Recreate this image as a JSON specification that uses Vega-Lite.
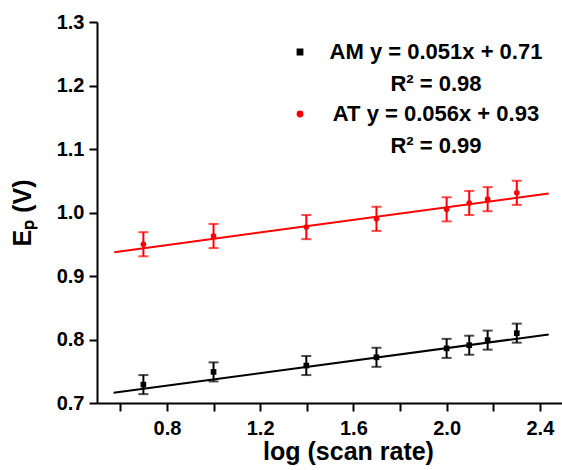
{
  "$schema": "https://vega.github.io/schema/vega-lite/v6.json",
  "width": 465,
  "height": 381,
  "autosize": "none",
  "padding": {"left": 97, "top": 22, "right": 0, "bottom": 67},
  "background": "white",
  "datasets": {
    "pts": [
      {"series": "AM", "logv": 0.699, "Ep": 0.729, "lo": 0.714, "hi": 0.744},
      {"series": "AM", "logv": 1.0, "Ep": 0.749, "lo": 0.734, "hi": 0.764},
      {"series": "AM", "logv": 1.398, "Ep": 0.759, "lo": 0.744, "hi": 0.774},
      {"series": "AM", "logv": 1.699, "Ep": 0.772, "lo": 0.757, "hi": 0.787},
      {"series": "AM", "logv": 2.0, "Ep": 0.786, "lo": 0.771, "hi": 0.801},
      {"series": "AM", "logv": 2.097, "Ep": 0.791, "lo": 0.776, "hi": 0.806},
      {"series": "AM", "logv": 2.176, "Ep": 0.799, "lo": 0.784, "hi": 0.814},
      {"series": "AM", "logv": 2.301, "Ep": 0.81, "lo": 0.795, "hi": 0.825},
      {"series": "AT", "logv": 0.699, "Ep": 0.95, "lo": 0.931, "hi": 0.969},
      {"series": "AT", "logv": 1.0, "Ep": 0.963, "lo": 0.944, "hi": 0.982},
      {"series": "AT", "logv": 1.398, "Ep": 0.977, "lo": 0.958, "hi": 0.996},
      {"series": "AT", "logv": 1.699, "Ep": 0.99, "lo": 0.971, "hi": 1.009},
      {"series": "AT", "logv": 2.0, "Ep": 1.005, "lo": 0.986, "hi": 1.024},
      {"series": "AT", "logv": 2.097, "Ep": 1.015, "lo": 0.996, "hi": 1.034},
      {"series": "AT", "logv": 2.176, "Ep": 1.021, "lo": 1.002, "hi": 1.04},
      {"series": "AT", "logv": 2.301, "Ep": 1.031, "lo": 1.012, "hi": 1.05}
    ],
    "fit": [
      {"series": "AM", "logv": 0.571, "Ep": 0.716},
      {"series": "AM", "logv": 2.438, "Ep": 0.808},
      {"series": "AT", "logv": 0.574, "Ep": 0.9375},
      {"series": "AT", "logv": 2.438, "Ep": 1.03}
    ]
  },
  "layer": [
    {
      "data": {"name": "fit"},
      "mark": {"type": "line", "strokeWidth": 2},
      "encoding": {
        "x": {"field": "logv", "type": "quantitative",
          "scale": {"domain": [0.5, 2.495], "nice": false, "zero": false},
          "axis": {"orient": "bottom", "values": [0.6, 0.8, 1.0, 1.2, 1.4, 1.6, 1.8, 2.0, 2.2, 2.4],
            "format": ".1f", "labelExpr": "round(datum.value*10) % 4 == 0 ? datum.label : ''",
            "title": "log (scan rate)", "titleX": 251, "labelPadding": 7, "titlePadding": 1}},
        "y": {"field": "Ep", "type": "quantitative",
          "scale": {"domain": [0.7, 1.3], "nice": false, "zero": false},
          "axis": {"values": [0.7, 0.75, 0.8, 0.85, 0.9, 0.95, 1.0, 1.05, 1.1, 1.15, 1.2, 1.25, 1.3],
            "format": ".1f", "labelExpr": "round(datum.value*100) % 10 == 0 ? datum.label : ''",
            "title": "Eₚ (V)", "labelPadding": 5, "titlePadding": 21}},
        "color": {"field": "series", "type": "nominal",
          "scale": {"domain": ["AM", "AT"], "range": ["#000000", "#ff0000"]}},
        "detail": {"field": "series"}
      }
    },
    {
      "mark": {"type": "rule", "strokeWidth": 1.5, "color": "black"},
      "encoding": {"y": {"datum": 1.3, "type": "quantitative"}}
    },
    {
      "data": {"name": "pts"},
      "mark": {"type": "rule", "strokeWidth": 2},
      "encoding": {
        "x": {"field": "logv", "type": "quantitative"},
        "y": {"field": "lo", "type": "quantitative"},
        "y2": {"field": "hi"},
        "color": {"field": "series", "type": "nominal"}
      }
    },
    {
      "data": {"name": "pts"},
      "mark": {"type": "tick", "orient": "horizontal", "size": 10, "thickness": 2},
      "encoding": {
        "x": {"field": "logv", "type": "quantitative"},
        "y": {"field": "lo", "type": "quantitative"},
        "color": {"field": "series", "type": "nominal"}
      }
    },
    {
      "data": {"name": "pts"},
      "mark": {"type": "tick", "orient": "horizontal", "size": 10, "thickness": 2},
      "encoding": {
        "x": {"field": "logv", "type": "quantitative"},
        "y": {"field": "hi", "type": "quantitative"},
        "color": {"field": "series", "type": "nominal"}
      }
    },
    {
      "data": {"name": "pts"},
      "mark": {"type": "point", "filled": true, "size": 32, "opacity": 1},
      "encoding": {
        "x": {"field": "logv", "type": "quantitative"},
        "y": {"field": "Ep", "type": "quantitative"},
        "color": {"field": "series", "type": "nominal",
          "legend": {"title": null, "orient": "top-right", "offset": 19,
            "labelExpr": "datum.label == 'AM' ? ['AM y = 0.051x + 0.71', 'R² = 0.98'] : ['AT y = 0.056x + 0.93', 'R² = 0.99']",
            "labelFont": "Liberation Sans", "labelFontWeight": "bold", "labelFontSize": 22, "labelColor": "black",
            "labelAlign": "center",
            "labelLimit": 400, "labelOffset": 125, "symbolSize": 28, "symbolOpacity": 1, "rowPadding": 8,
            "encode": {"labels": {"update": {"lineHeight": {"value": 32}}}}}},
        "shape": {"field": "series", "type": "nominal",
          "scale": {"domain": ["AM", "AT"], "range": ["square", "circle"]}}
      }
    }
  ],
  "config": {
    "view": {"stroke": null},
    "axis": {
      "grid": false, "domainColor": "black", "domainWidth": 2, "tickColor": "black", "tickWidth": 2, "tickSize": 8,
      "labelFont": "Liberation Sans", "labelFontWeight": "bold", "labelFontSize": 20, "labelColor": "black",
      "titleFont": "Liberation Sans", "titleFontWeight": "bold", "titleFontSize": 25, "titleColor": "black"
    }
  }
}
